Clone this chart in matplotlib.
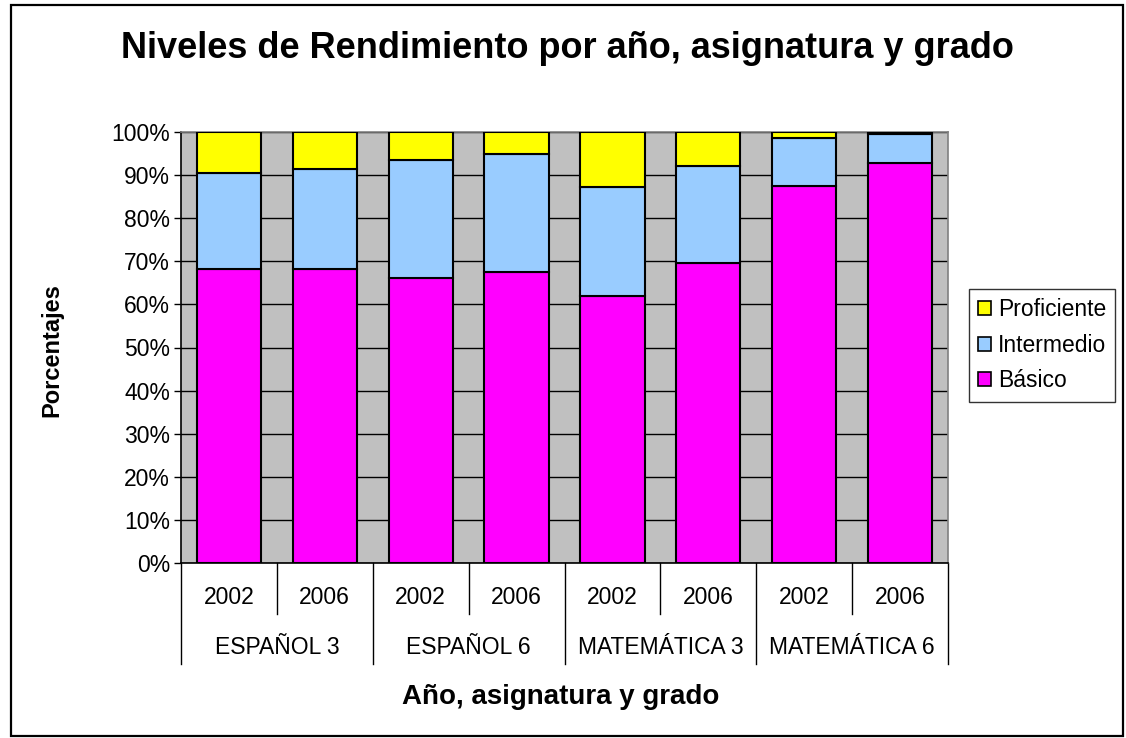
import matplotlib
matplotlib.use("Agg")
import matplotlib.pyplot as plt
from matplotlib.patches import Patch, Rectangle
from matplotlib.lines import Line2D
from matplotlib.ticker import FuncFormatter, MultipleLocator

plt.rcParams['font.family'] = ['Liberation Sans', 'DejaVu Sans']

# ---- data ----
years = ["2002", "2006", "2002", "2006", "2002", "2006", "2002", "2006"]
groups = ["ESPAÑOL 3", "ESPAÑOL 6", "MATEMÁTICA 3", "MATEMÁTICA 6"]
basico = [68.2, 68.2, 66.1, 67.5, 61.9, 69.6, 87.5, 92.7]
intermedio = [22.2, 23.2, 27.4, 27.3, 25.2, 22.5, 11.1, 6.7]
proficiente = [9.6, 8.6, 6.5, 5.2, 12.9, 7.9, 1.4, 0.6]
series_names = ["Básico", "Intermedio", "Proficiente"]
colors = ["#FF00FF", "#99CCFF", "#FFFF00"]

W, H = 1126, 738
fig = plt.figure(figsize=(W / 100, H / 100), dpi=100)
fig.patch.set_facecolor("white")

# outer border
fig.patches.append(Rectangle((11 / W, 2 / H), (1123 - 11) / W, (733 - 2) / H,
                             transform=fig.transFigure, fill=False,
                             edgecolor="#000000", linewidth=1.6, zorder=10))

L, R, T, B = 181, 948, 131.7, 563.3
ax = fig.add_axes([L / W, (H - B) / H, (R - L) / W, (B - T) / H])
ax.set_facecolor("#C0C0C0")

x = list(range(len(years)))
bw = 0.67
bottoms = [0.0] * len(x)
for vals, name, col in zip([basico, intermedio, proficiente], series_names, colors):
    ax.bar(x, vals, bw, bottom=bottoms, color=col, edgecolor="black",
           linewidth=1.5, label=name, zorder=3)
    bottoms = [b + v for b, v in zip(bottoms, vals)]

ax.set_xlim(-0.5, len(x) - 0.5)
ax.set_ylim(0, 100)
ax.yaxis.set_major_locator(MultipleLocator(10))
ax.yaxis.set_major_formatter(FuncFormatter(lambda v, p: f"{int(round(v))}%"))
ax.grid(axis="y", color="black", linewidth=1.0, zorder=1)
ax.set_axisbelow(True)
ax.tick_params(axis="y", direction="out", length=5, width=1, labelsize=16.5, pad=3)
ax.set_xticks([])
for s in ["top", "right"]:
    ax.spines[s].set_color("#808080")
    ax.spines[s].set_linewidth(1.2)
ax.spines["left"].set_color("black")
ax.spines["bottom"].set_color("black")
ax.spines["left"].set_linewidth(1.2)
ax.spines["bottom"].set_linewidth(1.2)

# hierarchical x labels
axh = B - T
def yfrac(py):
    return (B - py) / axh

trans = ax.get_xaxis_transform()
for i, y in enumerate(years):
    ax.text(i, yfrac(598), y, transform=trans, ha="center", va="center",
            fontsize=16.5)
for g, name in enumerate(groups):
    ax.text(2 * g + 0.5, yfrac(647), name, transform=trans, ha="center",
            va="center", fontsize=16.5)
for i in range(len(groups)):
    xs = 2 * i + 0.5
    ax.add_line(Line2D([xs, xs], [0, yfrac(614)], transform=trans, color="black",
                       linewidth=1.0, clip_on=False))
for i in range(len(groups) + 1):
    xs = 2 * i - 0.5
    ax.add_line(Line2D([xs, xs], [0, yfrac(664)], transform=trans, color="black",
                       linewidth=1.0, clip_on=False))

# titles
fig.text(567 / W, 1 - 49 / H, "Niveles de Rendimiento por año, asignatura y grado",
         ha="center", va="center", fontsize=26, fontweight="bold")
fig.text(52 / W, 1 - 350 / H, "Porcentajes", rotation=90, ha="center",
         va="center", fontsize=17, fontweight="bold")
fig.text(561 / W, 1 - 697 / H, "Año, asignatura y grado", ha="center",
         va="center", fontsize=20, fontweight="bold")

# legend
handles = [Patch(facecolor=c, edgecolor="black", linewidth=1.2)
           for c in reversed(colors)]
labels = list(reversed(series_names))
leg = fig.legend(handles, labels, loc="upper left",
                 bbox_to_anchor=(969 / W, 1 - 289 / H), fontsize=16.5,
                 frameon=True, fancybox=False, shadow=False,
                 handlelength=0.55, handleheight=0.55, handletextpad=0.3,
                 labelspacing=0.55, borderpad=0.4, borderaxespad=0)
leg.get_frame().set_edgecolor("black")
leg.get_frame().set_linewidth(1.0)

fig.savefig("out.png", dpi=100)
